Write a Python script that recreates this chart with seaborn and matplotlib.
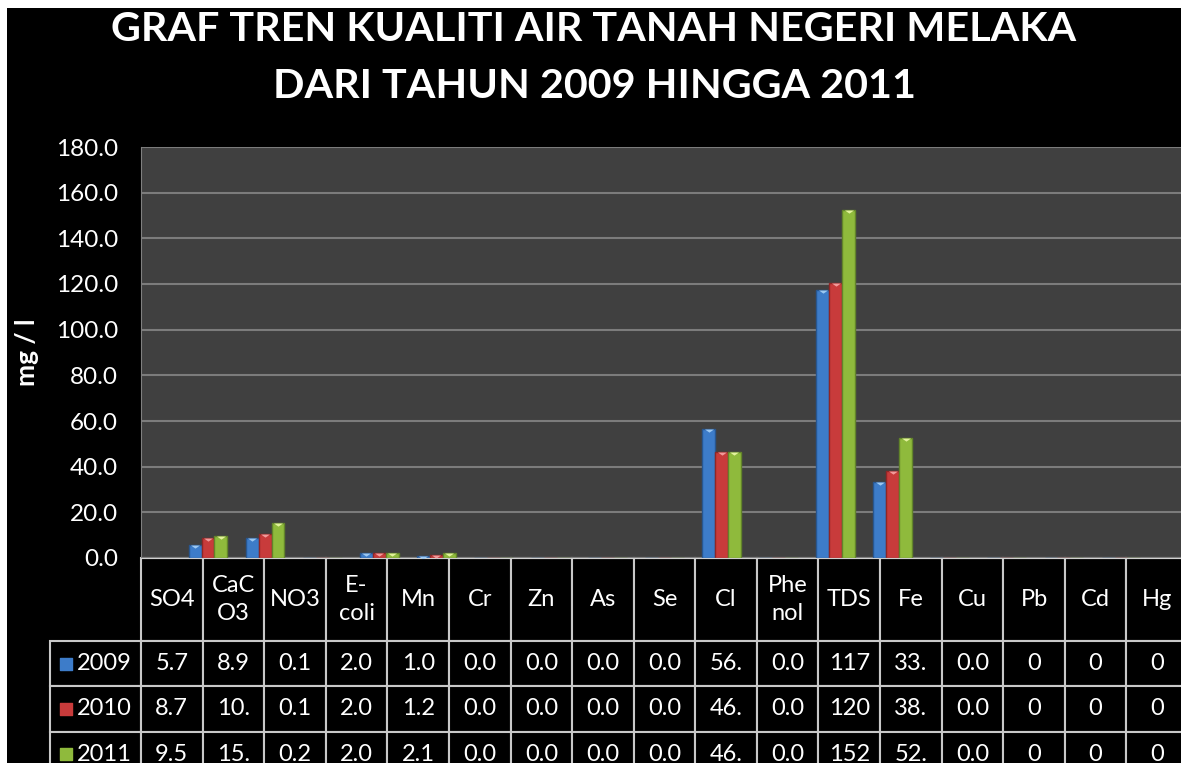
import pandas as pd
import matplotlib
matplotlib.use('Agg')
import matplotlib.pyplot as plt
import seaborn as sns
from matplotlib.patches import Rectangle
from matplotlib.table import Table

params = ['SO4', 'CaC\nO3', 'NO3', 'E-\ncoli', 'Mn', 'Cr', 'Zn', 'As', 'Se', 'Cl',
          'Phe\nnol', 'TDS', 'Fe', 'Cu', 'Pb', 'Cd', 'Hg']
years = ['2009', '2010', '2011']
v2009 = [5.7, 8.9, 0.1, 2.0, 1.0, 0.0, 0.0, 0.0, 0.0, 56.7, 0.0, 117.2, 33.5, 0.0, 0, 0, 0]
v2010 = [8.7, 10.3, 0.1, 2.0, 1.2, 0.0, 0.0, 0.0, 0.0, 46.3, 0.0, 120.3, 38.3, 0.0, 0, 0, 0]
v2011 = [9.5, 15.3, 0.2, 2.0, 2.1, 0.0, 0.0, 0.0, 0.0, 46.3, 0.0, 152.4, 52.4, 0.0, 0, 0, 0]
decimals = [1] * 14 + [0] * 3   # Pb, Cd, Hg shown without decimals

colors = ['#3d7cc9', '#c83b3b', '#8fba3c']
edge_colors = ['#28568f', '#8f2626', '#62842a']
cap_colors = ['#9cc8f2', '#f29a9a', '#e2f29c']

df = pd.DataFrame({
    'param': params * 3,
    'year': [y for y in years for _ in params],
    'value': v2009 + v2010 + v2011,
})

sns.set_style('dark')
plt.rcParams['font.family'] = ['Lato', 'DejaVu Sans']

W, H = 1181, 763
fig = plt.figure(figsize=(W / 100, H / 100), dpi=100, facecolor='white')
fig.add_artist(Rectangle((7 / W, 0), 1, 1 - 8 / H, transform=fig.transFigure,
                         facecolor='black', edgecolor='none', zorder=-10))

ax_w, ax_h = 1047, 411
ax = fig.add_axes([141 / W, 1 - 558 / H, ax_w / W, ax_h / H])

sns.barplot(data=df, x='param', y='value', hue='year', palette=colors,
            saturation=1, width=0.68, gap=0, errorbar=None, legend=False, ax=ax)

# darker edges + light triangle cap on each bar
cap = [(-1, 0), (1, 0), (0, -0.7), (-1, 0)]
for cont, ec, cc in zip(ax.containers, edge_colors, cap_colors):
    for bar in cont:
        bar.set_edgecolor(ec)
        bar.set_linewidth(1)
        h = bar.get_height()
        if h >= 1:
            ax.scatter(bar.get_x() + bar.get_width() / 2, h, marker=cap, s=42,
                       color=cc, linewidths=0, zorder=3)

ax.set_facecolor('#404040')
ax.set_ylim(0, 180)
ax.set_yticks(range(0, 181, 20))
ax.yaxis.set_major_formatter('{x:.1f}')
ax.yaxis.grid(True, color='#7c7c7c', lw=1.5)
ax.xaxis.grid(False)
ax.set_axisbelow(True)
ax.tick_params(axis='y', length=0, pad=16.5, labelsize=17.5, labelcolor='white')
ax.tick_params(axis='x', length=0, labelbottom=False)
ax.set_xlabel('')
ax.set_ylabel('mg / l', color='white', fontsize=19, fontweight='bold')
ax.yaxis.set_label_coords(-(141 - 39) / ax_w, 0.5)
for s in ['top', 'right']:
    ax.spines[s].set_visible(False)
ax.spines['left'].set_color('#808080')
ax.spines['bottom'].set_color('#d0d0d0')

# data table under the plot (sizes in axes fractions, row labels sit left of the grid)
head_h, row_h = 83 / ax_h, 45.3 / ax_h
col_w, lab_w = 1 / len(params), 91 / ax_w
tot_h = head_h + 3 * row_h
tbl = Table(ax, bbox=[0, -tot_h, 1, tot_h])
line_col = '#c8c8c8'
for j, p in enumerate(params):
    tbl.add_cell(0, j, col_w, head_h, text=p, loc='center',
                 facecolor='black', edgecolor=line_col)
for i, (yr, vals) in enumerate(zip(years, [v2009, v2010, v2011]), start=1):
    tbl.add_cell(i, -1, lab_w, row_h, text=yr, loc='right',
                 facecolor='black', edgecolor=line_col)
    for j, (v, d) in enumerate(zip(vals, decimals)):
        tbl.add_cell(i, j, col_w, row_h, text=f'{v:.{d}f}'[:3], loc='center',
                     facecolor='black', edgecolor=line_col)
tbl.auto_set_font_size(False)
tbl.set_fontsize(17)
for cell in tbl.get_celld().values():
    cell.set_linewidth(1.5)
    cell.get_text().set_color('white')
    cell.get_text().set_linespacing(1.4)
ax.add_table(tbl)

# legend keys in the row-label cells
for i, c in enumerate(colors):
    ax.scatter((66 - 141) / ax_w, -(head_h + row_h * (i + 0.5)), marker='s', s=80,
               color=c, transform=ax.transAxes, clip_on=False, zorder=5)

fig.text(0.503, 1 - 58 / H, 'GRAF TREN KUALITI AIR TANAH NEGERI MELAKA\nDARI TAHUN 2009 HINGGA 2011',
         ha='center', va='center', color='white', fontsize=29.7, fontweight='bold',
         linespacing=1.66)

fig.savefig('out.png', dpi=100, facecolor=fig.get_facecolor())
